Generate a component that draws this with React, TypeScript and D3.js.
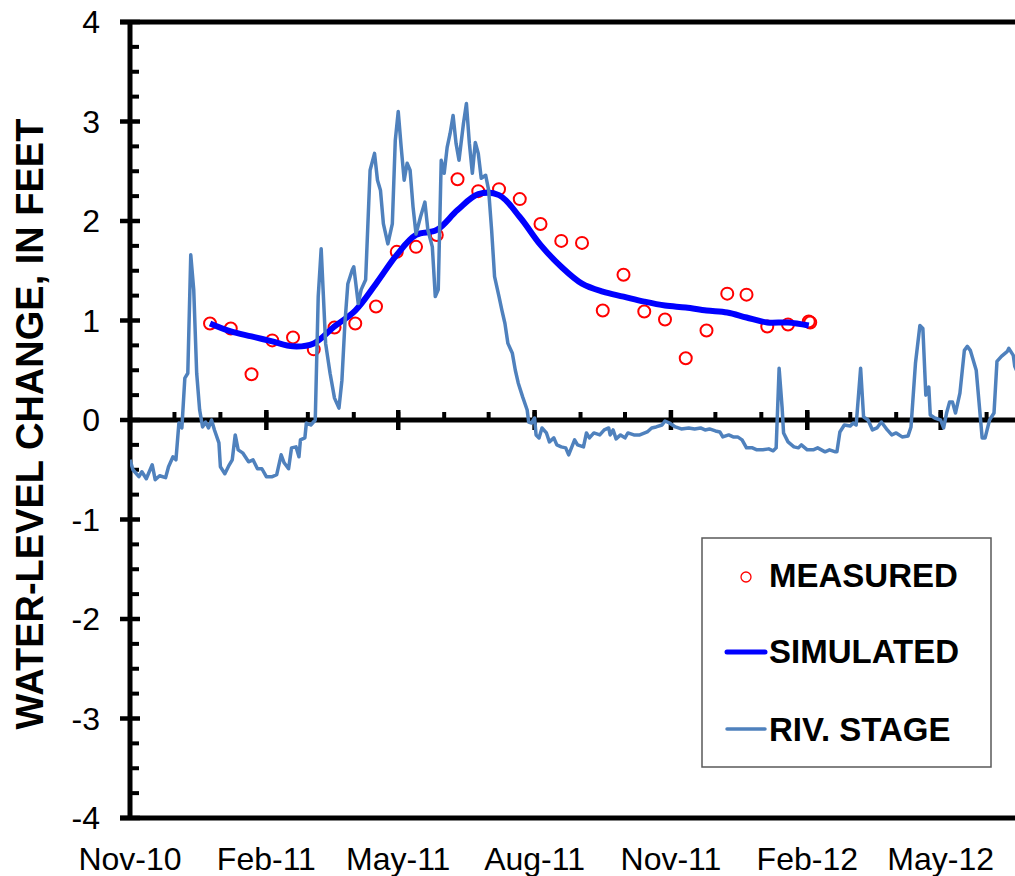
import React from 'react';
import * as d3 from 'd3';

// axis setup
const START = '2010-11-01';
const END = '2012-08-01';
const xTickLabels = ['Nov-10', 'Feb-11', 'May-11', 'Aug-11', 'Nov-11', 'Feb-12', 'May-12'];
const yTicks = [-4, -3, -2, -1, 0, 1, 2, 3, 4];

// measured water levels (biweekly)
const measuredDates = [
  '2010-12-25', '2011-01-08', '2011-01-22', '2011-02-05', '2011-02-19', '2011-03-05',
  '2011-03-19', '2011-04-02', '2011-04-16', '2011-04-30', '2011-05-13', '2011-05-27',
  '2011-06-10', '2011-06-24', '2011-07-08', '2011-07-22', '2011-08-05', '2011-08-19',
  '2011-09-02', '2011-09-16', '2011-09-30', '2011-10-14', '2011-10-28', '2011-11-11',
  '2011-11-25', '2011-12-09', '2011-12-22', '2012-01-05', '2012-01-19', '2012-02-02',
  '2012-02-03',
];
const measuredValues = [
  0.97, 0.92, 0.46, 0.8, 0.83, 0.71, 0.93, 0.97, 1.14, 1.69, 1.74, 1.86,
  2.42, 2.3, 2.32, 2.22, 1.97, 1.8, 1.78, 1.1, 1.46, 1.09, 1.01, 0.62,
  0.9, 1.27, 1.26, 0.94, 0.96, 0.99, 0.98,
];

// simulated (same dates as the first 30 measured)
const simulatedValues = [
  0.97, 0.89, 0.84, 0.79, 0.74, 0.77, 0.94, 1.1, 1.37, 1.66, 1.86, 1.91,
  2.11, 2.27, 2.26, 2.04, 1.76, 1.54, 1.37, 1.29, 1.24, 1.19, 1.15, 1.13,
  1.1, 1.08, 1.03, 0.98, 0.98, 0.95,
];

// river stage, days after 2010-11-01
const riverDays = [
  0, 2, 6, 8, 11, 15, 17, 20, 24, 26, 29, 31, 33, 35, 37, 39, 41, 43, 45, 47,
  49, 51, 53, 55, 57, 60, 61, 64, 67, 69, 71, 73, 76, 80, 83, 86, 89, 92, 96, 99,
  102, 104, 107, 109, 112, 114, 115, 118, 119, 122, 125, 127, 129, 132, 135, 138, 141, 143, 145, 147,
  150, 151, 154, 156, 159, 162, 165, 167, 169, 171, 174, 177, 179, 181, 183, 185, 187, 189, 191, 193,
  196, 199, 201, 204, 206, 208, 210, 212, 214, 216, 218, 220, 222, 225, 227, 229, 231, 233, 235, 237,
  240, 242, 244, 246, 249, 251, 253, 255, 258, 260, 262, 265, 268, 269, 271, 273, 274, 276, 278, 281,
  283, 286, 288, 291, 294, 296, 300, 302, 306, 308, 310, 313, 317, 320, 323, 324, 326, 328, 331, 334,
  336, 340, 344, 349, 352, 355, 359, 361, 364, 368, 372, 377, 381, 385, 388, 391, 395, 398, 400, 404,
  407, 410, 413, 416, 420, 423, 427, 431, 434, 436, 438, 440, 441, 444, 448, 451, 453, 457, 461, 464,
  469, 472, 476, 477, 479, 482, 486, 488, 490, 493, 495, 498, 501, 504, 507, 511, 514, 517, 521, 525,
  527, 530, 533, 535, 537, 539, 540, 543, 547, 549, 551, 553, 555, 557, 560, 563, 565, 567, 571, 575,
  577, 580, 583, 585, 588, 592, 593, 596, 597, 601,
];
const riverValues = [
  -0.4, -0.5, -0.57, -0.52, -0.59, -0.45, -0.6, -0.56, -0.58, -0.47, -0.37, -0.4, -0.03, -0.08, 0.42, 0.47, 1.66, 1.31, 0.47, 0.1,
  -0.07, -0.02, -0.08, 0.0, -0.1, -0.23, -0.47, -0.54, -0.45, -0.4, -0.15, -0.3, -0.33, -0.42, -0.4, -0.49, -0.49, -0.57, -0.57, -0.55,
  -0.35, -0.43, -0.49, -0.28, -0.27, -0.37, -0.2, -0.18, -0.03, -0.05, 0.0, 1.24, 1.72, 0.77, 0.47, 0.22, 0.12, 0.4, 0.97, 1.37,
  1.51, 1.54, 1.17, 1.31, 1.41, 2.51, 2.68, 2.41, 2.31, 1.97, 1.77, 1.97, 2.81, 3.1, 2.74, 2.41, 2.58, 2.51, 2.14, 1.87,
  2.04, 2.19, 1.91, 1.74, 1.24, 1.31, 2.61, 2.48, 2.74, 2.88, 3.06, 2.78, 2.61, 2.98, 3.18, 2.78, 2.48, 2.79, 2.68, 2.43,
  2.46, 2.31, 1.91, 1.44, 1.24, 1.1, 0.97, 0.77, 0.67, 0.5, 0.37, 0.23, 0.1, -0.02, -0.03, 0.02, -0.15, -0.18, -0.08, -0.13,
  -0.22, -0.18, -0.25, -0.27, -0.28, -0.35, -0.2, -0.25, -0.27, -0.13, -0.18, -0.13, -0.15, -0.1, -0.08, -0.15, -0.1, -0.19, -0.15, -0.18,
  -0.13, -0.15, -0.15, -0.12, -0.08, -0.07, -0.05, -0.01, -0.03, -0.07, -0.09, -0.08, -0.09, -0.08, -0.1, -0.09, -0.11, -0.12, -0.17, -0.15,
  -0.17, -0.17, -0.2, -0.28, -0.28, -0.3, -0.3, -0.29, -0.31, -0.28, 0.52, 0.13, -0.13, -0.22, -0.27, -0.28, -0.25, -0.3, -0.3, -0.28,
  -0.32, -0.3, -0.32, -0.32, -0.12, -0.05, -0.06, -0.03, -0.05, 0.52, 0.03, 0.0, -0.1, -0.08, -0.02, -0.1, -0.15, -0.13, -0.17, -0.16,
  -0.07, 0.57, 0.95, 0.92, 0.25, 0.33, 0.05, 0.02, 0.0, -0.08, 0.07, 0.18, 0.18, 0.07, 0.27, 0.7, 0.74, 0.7, 0.5, -0.18,
  -0.18, 0.0, 0.07, 0.59, 0.64, 0.69, 0.72, 0.65, 0.54, 0.4,
];

const FONT = '"Liberation Sans", Arial, sans-serif';

export default function App() {
  const parse = d3.timeParse('%Y-%m-%d');
  const start = parse(START) as Date;
  const end = parse(END) as Date;

  const x = d3.scaleTime().domain([start, end]).range([130, 1077]);
  const y = d3.scaleLinear().domain([-4, 4]).range([818, 22]);

  // monthly minor ticks, every third month a major tick starting at Nov-10
  const minorDates = d3.timeMonth.range(start, end);
  const majorDates = minorDates.filter((_, i) => i % 3 === 0);
  const yMinor = d3.range(-4, 4, 0.25).filter((v) => v % 1 !== 0);

  const measured = measuredDates.map((d, i) => ({ date: parse(d) as Date, v: measuredValues[i] }));
  const simulated = simulatedValues.map((v, i) => ({ date: parse(measuredDates[i]) as Date, v }));
  const river = riverDays.map((d, i) => ({ date: d3.timeDay.offset(start, d), v: riverValues[i] }));

  const simLine = d3.line<{ date: Date; v: number }>()
    .x((d) => x(d.date))
    .y((d) => y(d.v))
    .curve(d3.curveCatmullRom.alpha(0.5));
  const rivLine = d3.line<{ date: Date; v: number }>()
    .x((d) => x(d.date))
    .y((d) => y(d.v));

  const [x0, x1] = x.range();
  const [yb, yt] = y.range();

  return (
    <svg width={1015} height={876} style={{ position: 'absolute', left: 0, top: 0, background: '#fff' }}
      fontFamily={FONT}>
      <defs>
        <clipPath id="plot">
          <rect x={x0} y={yt} width={x1 - x0} height={yb - yt} />
        </clipPath>
      </defs>

      {/* frame */}
      <line x1={x0 - 10} x2={x1} y1={yt} y2={yt} stroke="#000" strokeWidth={5} />
      <line x1={x0 - 10} x2={x1} y1={yb} y2={yb} stroke="#000" strokeWidth={5} />
      <line x1={x0} x2={x0} y1={yt - 2} y2={yb + 2} stroke="#000" strokeWidth={5} />

      {/* y ticks */}
      {yTicks.map((t) => (
        <g key={'yt' + t}>
          <line x1={x0 - 10} x2={x0 + 10} y1={y(t)} y2={y(t)} stroke="#000" strokeWidth={4.5} />
          <text x={100} y={y(t) + 11} fontSize={32} textAnchor="end">{t}</text>
        </g>
      ))}
      {yMinor.map((t) => (
        <line key={'ym' + t} x1={x0} x2={x0 + 9} y1={y(t)} y2={y(t)} stroke="#000" strokeWidth={4} />
      ))}

      {/* zero line with date ticks */}
      <line x1={x0} x2={x1} y1={y(0)} y2={y(0)} stroke="#000" strokeWidth={5} />
      {minorDates.map((d) => (
        <line key={'xm' + d.getTime()} x1={x(d)} x2={x(d)} y1={y(0) - 8} y2={y(0)} stroke="#000" strokeWidth={4} />
      ))}
      {majorDates.map((d) => (
        <line key={'xM' + d.getTime()} x1={x(d)} x2={x(d)} y1={y(0) - 10} y2={y(0) + 10} stroke="#000" strokeWidth={4.5} />
      ))}
      {majorDates.slice(0, xTickLabels.length).map((d, i) => (
        <text key={'xl' + i} x={x(d)} y={870} fontSize={32} textAnchor="middle">{xTickLabels[i]}</text>
      ))}

      {/* series */}
      <g clipPath="url(#plot)">
        {measured.map((d, i) => (
          <circle key={'m' + i} cx={x(d.date)} cy={y(d.v)} r={6} fill="none" stroke="#ff0000" strokeWidth={2} />
        ))}
        <path d={simLine(simulated) || ''} fill="none" stroke="#0000ff" strokeWidth={6} strokeLinejoin="round" />
        <path d={rivLine(river) || ''} fill="none" stroke="#4f81bd" strokeWidth={3.5} strokeLinejoin="round" />
      </g>

      {/* y title */}
      <text transform="translate(43,424) rotate(-90)" fontSize={38} fontWeight="bold" textAnchor="middle">
        WATER-LEVEL CHANGE, IN FEET
      </text>

      {/* legend */}
      <g>
        <rect x={702} y={538} width={289} height={229} fill="#fff" stroke="#595959" strokeWidth={1.5} />
        <circle cx={746} cy={577} r={5} fill="none" stroke="#ff0000" strokeWidth={1.3} />
        <text x={769} y={587} fontSize={33} fontWeight="bold">MEASURED</text>
        <line x1={727} x2={765} y1={652} y2={652} stroke="#0000ff" strokeWidth={5} strokeLinecap="round" />
        <text x={769} y={663} fontSize={33} fontWeight="bold">SIMULATED</text>
        <line x1={727} x2={765} y1={729} y2={729} stroke="#4f81bd" strokeWidth={3.5} strokeLinecap="round" />
        <text x={769} y={741} fontSize={33} fontWeight="bold">RIV. STAGE</text>
      </g>
    </svg>
  );
}
